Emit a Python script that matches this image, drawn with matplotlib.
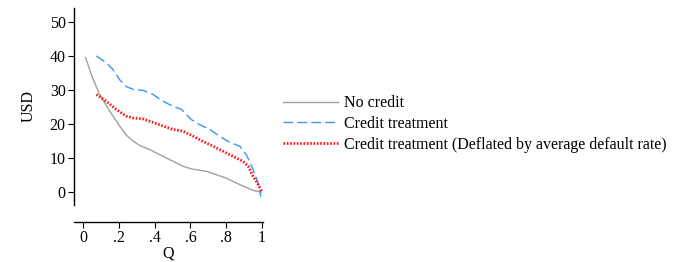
import matplotlib
matplotlib.use("Agg")
import matplotlib.pyplot as plt

plt.rcParams['font.family'] = ['Liberation Serif', 'DejaVu Serif']

# values
q_none = [0.015, 0.05, 0.093, 0.149, 0.205, 0.245, 0.28, 0.32, 0.372, 0.466, 0.559, 0.605, 0.689,
          0.8, 0.875, 0.95, 0.996]
y_none = [39.5, 34.0, 28.7, 23.8, 19.4, 16.6, 15.0, 13.6, 12.5, 10.0, 7.6, 6.8, 6.1,
          4.1, 2.2, 0.5, 0.0]

q_credit = [0.075, 0.13, 0.168, 0.205, 0.242, 0.28, 0.335, 0.39, 0.447, 0.503, 0.55, 0.605, 0.652,
            0.708, 0.763, 0.82, 0.875, 0.912, 0.95, 0.978, 0.993]
y_credit = [40.0, 38.0, 36.0, 33.0, 31.0, 30.2, 29.9, 28.7, 26.7, 25.2, 24.3, 21.3, 19.8,
            18.4, 16.4, 14.6, 13.5, 11.0, 6.6, 2.6, -1.3]

q_defl = [0.075, 0.13, 0.186, 0.242, 0.28, 0.335, 0.39, 0.447, 0.503, 0.559, 0.615, 0.67, 0.726,
          0.782, 0.838, 0.894, 0.922, 0.95, 0.978, 1.0]
y_defl = [28.7, 26.7, 24.3, 22.3, 21.8, 21.5, 20.5, 19.4, 18.4, 17.9, 16.4, 14.9, 13.5,
          12.0, 10.5, 9.0, 7.6, 4.6, 2.2, 0.0]

xticks = [0, 0.2, 0.4, 0.6, 0.8, 1]
xticklabels = ["0", ".2", ".4", ".6", ".8", "1"]
yticks = [0, 10, 20, 30, 40, 50]

fs = 11.5

fig = plt.figure(figsize=(6.81, 2.62), dpi=100)
ax = fig.add_axes([74 / 681, 1 - 205 / 262, 189 / 681, 197 / 262])

ax.plot(q_none, y_none, color="#a0a0a0", lw=1.0, label="No credit")
ax.plot(q_credit, y_credit, color="#3a96f5", lw=1.0, dashes=(7, 3), label="Credit treatment")
ax.plot(q_defl, y_defl, color="#ff1a1a", lw=2.0, linestyle=(0, (0.6, 0.6)),
        label="Credit treatment (Deflated by average default rate)")

ax.set_xlim(-0.05, 1.005)
ax.set_ylim(-3.8, 54.1)
ax.set_xticks(xticks)
ax.set_xticklabels(xticklabels)
ax.set_yticks(yticks)
ax.set_xlabel("Q", fontsize=fs, labelpad=0)
ax.set_ylabel("USD", fontsize=fs, labelpad=9)
ax.tick_params(labelsize=fs, length=4, width=0.8, color="black", pad=2)

for s in ["top", "right"]:
    ax.spines[s].set_visible(False)
ax.spines["bottom"].set_position(("outward", 12))
ax.spines["left"].set_linewidth(1.0)
ax.spines["bottom"].set_linewidth(1.0)

fig.legend(loc="center left", bbox_to_anchor=(277 / 681, 1 - 124 / 262), frameon=False,
           fontsize=fs, handlelength=3.4, handletextpad=0.42, labelspacing=0.3,
           borderaxespad=0)

fig.savefig("out.png", dpi=100)
